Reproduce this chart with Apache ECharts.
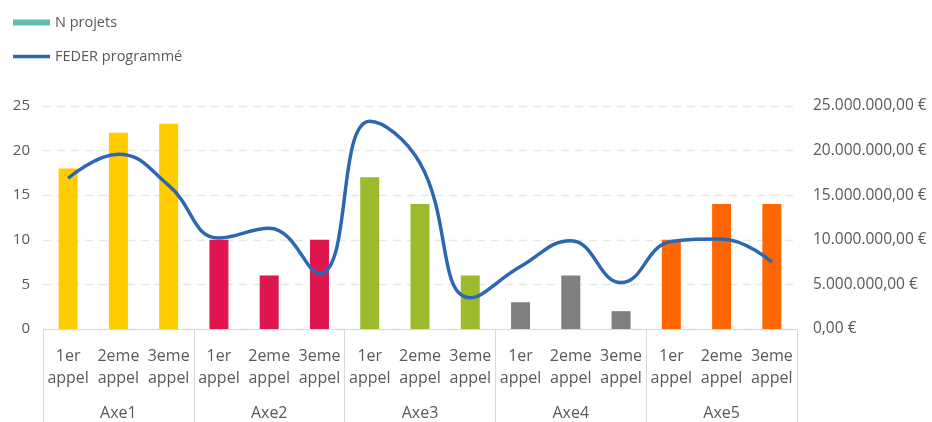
<!DOCTYPE html>
<html><head><meta charset="utf-8">
<script src="https://cdn.jsdelivr.net/npm/echarts@6/dist/echarts.min.js"></script>
<style>html,body{margin:0;padding:0;background:#fff}#c{width:932px;height:422px}</style>
</head><body><div id="c"></div>
<script>
const categories = ['1er\nappel','2eme\nappel','3eme\nappel','1er\nappel','2eme\nappel','3eme\nappel','1er\nappel','2eme\nappel','3eme\nappel','1er\nappel','2eme\nappel','3eme\nappel','1er\nappel','2eme\nappel','3eme\nappel'];
const groups = ['Axe1','Axe2','Axe3','Axe4','Axe5'];
const nProjets = [18,22,23,10,6,10,17,14,6,3,6,2,10,14,14];
const feder = [16900000,19600000,16100000,10200000,11300000,6200000,23300000,18600000,3500000,7000000,9900000,5200000,9800000,10100000,7500000];
const groupColors = ['#FFCC00','#E0174F','#9BBB2C','#808080','#FF6600'];
const FONT = 'Open Sans';
const chart = echarts.init(document.getElementById('c'));
chart.setOption({
  animation:false,
  textStyle:{fontFamily:FONT},
  legend:{
    orient:'vertical', left:8, top:10, itemWidth:37, itemHeight:6, itemGap:19,
    textStyle:{color:'#595959', fontSize:14.5, fontFamily:FONT},
    data:[{name:'N projets', icon:'rect'},{name:'FEDER programmé', icon:'path://M0,0L37,0L37,3.5L0,3.5Z'}]
  },
  grid:{left:43, right:135, top:106, bottom:93},
  xAxis:[{
    type:'category', data:categories, position:'bottom',
    axisLine:{lineStyle:{color:'#D9D9D9'}}, axisTick:{show:false},
    axisLabel:{color:'#595959', fontSize:16, lineHeight:22, margin:16, interval:0, fontFamily:FONT}
  },{
    type:'category', data:groups, position:'bottom',
    axisLine:{show:false},
    axisTick:{show:true, length:93, lineStyle:{color:'#D9D9D9'}},
    axisLabel:{color:'#595959', fontSize:16, margin:76, fontFamily:FONT}
  }],
  yAxis:[{
    type:'value', min:0, max:25, interval:5,
    axisLine:{show:false}, axisTick:{show:false},
    axisLabel:{color:'#595959', fontSize:15, margin:13, fontFamily:FONT},
    splitLine:{lineStyle:{color:'#E6E6E6', type:[8,6], width:1.3}}
  },{
    type:'value', min:0, max:25000000, interval:5000000,
    axisLine:{show:false}, axisTick:{show:false}, splitLine:{show:false},
    axisLabel:{color:'#595959', fontSize:15.5, margin:16, fontFamily:FONT,
      formatter:v=>{const s=Math.round(v).toString().replace(/\B(?=(\d{3})+(?!\d))/g,'.');return s+',00 €';}}
  }],
  series:[{
    name:'N projets', type:'bar', barWidth:19,
    itemStyle:{color:'#5CBFA6'},
    data:nProjets.map((v,i)=>({value:v,itemStyle:{color:groupColors[Math.floor(i/3)]}}))
  },{
    name:'FEDER programmé', type:'line', yAxisIndex:1, smooth:0.45,
    showSymbol:false, symbol:'none',
    lineStyle:{color:'#2E67B1', width:3.5}, itemStyle:{color:'#2E67B1'},
    data:feder
  }]
});
</script></body></html>
